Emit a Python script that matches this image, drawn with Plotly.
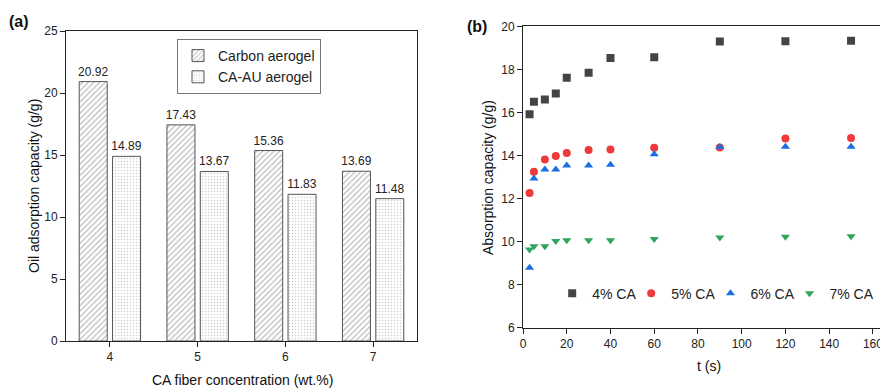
import plotly.graph_objects as go

# ---- data (a)
conc = ["4", "5", "6", "7"]
carbon = [20.92, 17.43, 15.36, 13.69]
caau = [14.89, 13.67, 11.83, 11.48]

# ---- data (b)
t = [3, 5, 10, 15, 20, 30, 40, 60, 90, 120, 150]
ca4 = [15.92, 16.50, 16.60, 16.88, 17.61, 17.84, 18.53, 18.56, 19.29, 19.30, 19.33]
ca5 = [12.26, 13.24, 13.81, 13.98, 14.12, 14.25, 14.28, 14.36, 14.37, 14.79, 14.81]
ca6 = [8.78, 12.93, 13.35, 13.35, 13.53, 13.53, 13.57, 14.06, 14.39, 14.40, 14.40]
ca7 = [9.63, 9.78, 9.78, 10.03, 10.06, 10.06, 10.06, 10.12, 10.19, 10.22, 10.25]

OFF = 8  # default page body margin
W, H = 888 - OFF, 389 - OFF
FONT = "Liberation Sans, Arial, sans-serif"


def px(x):
    return (x - OFF) / W


def py(y):
    return 1 - (y - OFF) / H


fig = go.Figure()

fig.add_trace(go.Bar(
    x=conc, y=carbon, name="Carbon aerogel", xaxis="x", yaxis="y",
    text=[f"{v:.2f}" for v in carbon], textposition="outside", constraintext="none",
    textfont=dict(size=12, color="#222", family=FONT), cliponaxis=False,
    marker=dict(color="white", line=dict(color="#555", width=1),
                pattern=dict(shape="/", fgcolor="#777", bgcolor="white", size=4, solidity=0.3)),
    legend="legend",
))
fig.add_trace(go.Bar(
    x=conc, y=caau, name="CA-AU aerogel", xaxis="x", yaxis="y",
    text=[f"{v:.2f}" for v in caau], textposition="outside", constraintext="none",
    textfont=dict(size=12, color="#222", family=FONT), cliponaxis=False,
    marker=dict(color="white", line=dict(color="#555", width=1),
                pattern=dict(shape=".", fgcolor="#999", bgcolor="white", size=3, solidity=0.2)),
    legend="legend",
))

series = [
    ("4% CA", ca4, "square", "#444444", "legend2"),
    ("5% CA", ca5, "circle", "#ee3a3a", "legend3"),
    ("6% CA", ca6, "triangle-up", "#1b6fe0", "legend4"),
    ("7% CA", ca7, "triangle-down", "#2ea35c", "legend5"),
]
for name, ys, sym, col, lg in series:
    fig.add_trace(go.Scatter(
        x=t, y=ys, mode="markers", name=name, xaxis="x2", yaxis="y2",
        marker=dict(symbol=sym, color=col, size=8), legend=lg,
    ))

axis_common = dict(showgrid=False, zeroline=False, linecolor="#222", linewidth=1,
                   ticks="outside", ticklen=5, tickcolor="#222", tickwidth=1,
                   tickfont=dict(size=12, color="#222", family=FONT))

leg_marker_x = [571.7, 650.7, 730, 809]
small_leg = dict(orientation="h", yanchor="middle", xanchor="left",
                 bgcolor="rgba(0,0,0,0)", font=dict(size=14, color="#222", family=FONT))

fig.update_layout(
    width=W, height=H, margin=dict(l=0, r=0, t=0, b=0),
    paper_bgcolor="white", plot_bgcolor="white",
    font=dict(family=FONT, color="#222"),
    barmode="group", bargap=0.24, bargroupgap=0.16,
    xaxis=dict(domain=[px(66), px(417)], anchor="y", type="category",
               range=[-0.5, 3.5], mirror=True, automargin=False, **axis_common),
    yaxis=dict(domain=[py(341), py(31)], anchor="x", range=[0, 25],
               tickvals=[0, 5, 10, 15, 20, 25], mirror=True, automargin=False, **axis_common),
    xaxis2=dict(domain=[px(523), 1.0], anchor="y2", range=[0, 166.9],
                tickvals=[0, 20, 40, 60, 80, 100, 120, 140, 160], mirror=True,
                automargin=False, **axis_common),
    yaxis2=dict(domain=[py(327.7), py(26.3)], anchor="x2", range=[6, 20],
                tickvals=[6, 8, 10, 12, 14, 16, 18, 20], automargin=False, **axis_common),
    legend=dict(x=px(177), y=py(39), xanchor="left", yanchor="top",
                bordercolor="#777", borderwidth=1, bgcolor="white",
                font=dict(size=14, color="#222", family=FONT), tracegroupgap=0),
    legend2=dict(x=px(leg_marker_x[0] - 19.5), y=py(293.7), **small_leg),
    legend3=dict(x=px(leg_marker_x[1] - 19.5), y=py(293.7), **small_leg),
    legend4=dict(x=px(leg_marker_x[2] - 19.5), y=py(293.7), **small_leg),
    legend5=dict(x=px(leg_marker_x[3] - 19.5), y=py(293.7), **small_leg),
    showlegend=True,
)

annots = [
    dict(text="<b>(a)</b>", x=px(19), y=py(22), size=16),
    dict(text="<b>(b)</b>", x=px(477), y=py(26), size=16),
    dict(text="CA fiber concentration (wt.%)", x=px(242), y=py(380), size=14),
    dict(text="t (s)", x=px(709), y=py(366), size=14),
    dict(text="Oil adsorption capacity (g/g)", x=px(34), y=py(186), size=14, angle=-90),
    dict(text="Absorption capacity (g/g)", x=px(488), y=py(177), size=14, angle=-90),
]
for a in annots:
    fig.add_annotation(text=a["text"], x=a["x"], y=a["y"], xref="paper", yref="paper",
                       xanchor="center", yanchor="middle", showarrow=False,
                       textangle=a.get("angle", 0),
                       font=dict(size=a["size"], color="#111", family=FONT))

fig.write_html("out.html")
